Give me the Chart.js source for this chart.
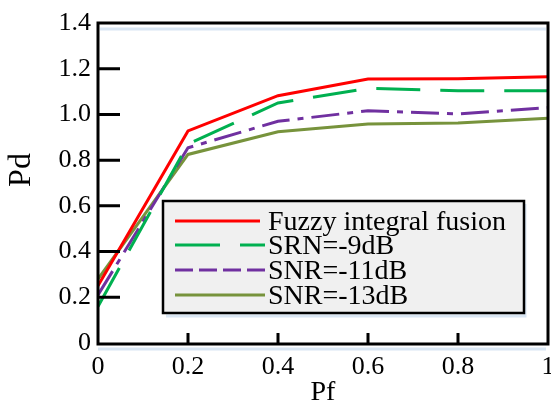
<!DOCTYPE html>
<html>
<head>
<meta charset="utf-8">
<script src="https://cdn.jsdelivr.net/npm/chart.js@4/dist/chart.umd.min.js"></script>
<style>
  html, body { margin: 0; padding: 0; background: #ffffff; }
  #wrap { width: 551px; height: 407px; }
</style>
</head>
<body>
<div id="wrap"><canvas id="c" width="551" height="407"></canvas></div>
<script>
// False-alarm probability (x) and detection probability (y) for each method
const pfValues   = [0, 0.2, 0.4, 0.6, 0.8, 1.0];
const fuzzyFusion = [0.25, 0.928, 1.082, 1.155, 1.156, 1.165];
const srnMinus9   = [0.16, 0.87, 1.05, 1.114, 1.104, 1.104];
const snrMinus11  = [0.21, 0.854, 0.97, 1.016, 1.002, 1.03];
const snrMinus13  = [0.28, 0.825, 0.924, 0.958, 0.962, 0.983];
const seriesLabels = ['Fuzzy integral fusion', 'SRN=-9dB', 'SNR=-11dB', 'SNR=-13dB'];
const xTickValues = [0, 0.2, 0.4, 0.6, 0.8, 1];
const yTickValues = [0, 0.2, 0.4, 0.6, 0.8, 1.0, 1.2, 1.4];
const xTitle = 'Pf';
const yTitle = 'Pd';

const FONT = "'Liberation Serif', 'Times New Roman', serif";

function toPoints(ys) {
  return pfValues.map((x, i) => ({ x: x, y: ys[i] }));
}

const styles = [
  { color: '#ff0000', dash: [] },
  { color: '#00b050', dash: [44, 20] },
  { color: '#7030a0', dash: [28, 8, 6, 8] },
  { color: '#77933c', dash: [] }
];
const seriesValues = [fuzzyFusion, srnMinus9, snrMinus11, snrMinus13];

const datasets = seriesValues.map((vals, i) => ({
  label: seriesLabels[i],
  data: toPoints(vals),
  borderColor: styles[i].color,
  backgroundColor: styles[i].color,
  borderDash: styles[i].dash,
  borderWidth: 3,
  pointRadius: 0,
  fill: false,
  tension: 0
}));

// Frame, inward ticks, axis title and boxed legend
const framePlugin = {
  id: 'frame',
  afterDraw(chart) {
    const ctx = chart.ctx;
    const a = chart.chartArea;
    const xs = chart.scales.x, ys = chart.scales.y;
    ctx.save();

    // soft blue shadow lines
    ctx.strokeStyle = '#d9e6f3';
    ctx.lineWidth = 3;
    ctx.beginPath();
    ctx.moveTo(a.left + 2, a.top + 6); ctx.lineTo(a.right - 2, a.top + 6);
    ctx.moveTo(a.left, a.bottom + 6); ctx.lineTo(a.right - 2, a.bottom + 6);
    ctx.stroke();

    // plot frame
    ctx.strokeStyle = '#000000';
    ctx.lineWidth = 3;
    ctx.beginPath();
    ctx.rect(a.left, a.top, a.right - a.left, a.bottom - a.top + 1);
    ctx.stroke();

    // inward ticks
    ctx.lineWidth = 3;
    ctx.beginPath();
    yTickValues.forEach(v => {
      if (v === 0 || v === 1.4) return;
      const py = ys.getPixelForValue(v);
      ctx.moveTo(a.left, py); ctx.lineTo(a.left + 22, py);
    });
    xTickValues.forEach(v => {
      if (v === 0 || v === 1) return;
      const px = xs.getPixelForValue(v);
      ctx.moveTo(px, a.bottom); ctx.lineTo(px, a.bottom - 10);
    });
    ctx.stroke();

    // y axis title
    ctx.fillStyle = '#000000';
    ctx.font = '32px ' + FONT;
    ctx.textAlign = 'center';
    ctx.textBaseline = 'middle';
    ctx.translate(22, 170);
    ctx.rotate(-Math.PI / 2);
    ctx.fillText(yTitle, 0, 0);
    ctx.setTransform(1, 0, 0, 1, 0, 0);

    // legend box
    const bx = 163, by = 201, bw = 361, bh = 112;
    ctx.strokeStyle = '#d9e6f3';
    ctx.lineWidth = 3;
    ctx.beginPath();
    ctx.moveTo(bx + 3, by + bh + 3); ctx.lineTo(bx + bw + 1, by + bh + 3);
    ctx.lineTo(bx + bw + 1, by + 3);
    ctx.stroke();
    ctx.fillStyle = '#f0f0f0';
    ctx.fillRect(bx, by, bw, bh);
    ctx.strokeStyle = '#000000';
    ctx.lineWidth = 2.5;
    ctx.strokeRect(bx, by, bw, bh);

    const rowY = [222, 246, 271, 296];
    const legendDash = [[], [45, 20], [18, 6], []];
    ctx.font = '28px ' + FONT;
    ctx.textAlign = 'left';
    ctx.textBaseline = 'middle';
    chart.data.datasets.forEach((ds, i) => {
      ctx.strokeStyle = ds.borderColor;
      ctx.lineWidth = 3;
      ctx.setLineDash(legendDash[i]);
      ctx.beginPath();
      ctx.moveTo(175, rowY[i] - 1);
      ctx.lineTo(i === 0 ? 260 : 265, rowY[i] - 1);
      ctx.stroke();
      ctx.setLineDash([]);
      ctx.fillStyle = '#000000';
      ctx.fillText(ds.label, 268, rowY[i] + 1);
    });
    ctx.restore();
  }
};

new Chart(document.getElementById('c'), {
  type: 'line',
  data: { datasets: datasets },
  options: {
    responsive: false,
    animation: false,
    devicePixelRatio: 1,
    layout: { padding: { left: 0, top: 23, right: 3, bottom: 0 } },
    plugins: { legend: { display: false }, tooltip: { enabled: false } },
    scales: {
      x: {
        type: 'linear',
        min: 0, max: 1,
        grid: { display: false, drawTicks: false },
        border: { display: false },
        afterBuildTicks(scale) { scale.ticks = xTickValues.map(v => ({ value: v })); },
        afterFit(scale) { scale.height = 64; scale.paddingLeft = 0; scale.paddingRight = 0; },
        ticks: {
          color: '#000000',
          padding: 9,
          maxRotation: 0,
          autoSkip: false,
          font: { family: FONT, size: 26 },
          callback: v => (v === 0 ? '0' : v === 1 ? '1' : v.toFixed(1))
        },
        title: {
          display: true,
          text: xTitle,
          color: '#000000',
          font: { family: FONT, size: 28, lineHeight: 1.0 },
          padding: { top: 2, bottom: 0 }
        }
      },
      y: {
        type: 'linear',
        min: 0, max: 1.4,
        grid: { display: false, drawTicks: false },
        border: { display: false },
        afterBuildTicks(scale) { scale.ticks = yTickValues.map(v => ({ value: v })); },
        afterFit(scale) { scale.width = 98; scale.paddingTop = 0; scale.paddingBottom = 0; },
        ticks: {
          color: '#000000',
          padding: 7,
          autoSkip: false,
          font: { family: FONT, size: 26 },
          callback: v => (v === 0 ? '0' : v.toFixed(1))
        }
      }
    }
  },
  plugins: [framePlugin]
});
</script>
</body>
</html>
